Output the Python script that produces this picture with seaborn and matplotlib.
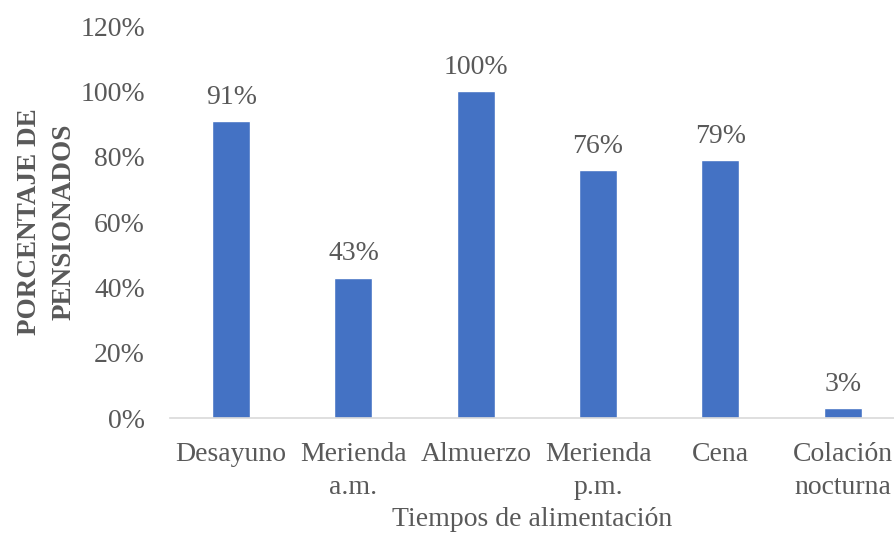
import matplotlib
matplotlib.use("Agg")
import matplotlib.pyplot as plt
import seaborn as sns
import pandas as pd

categorias = ["Desayuno", "Merienda\na.m.", "Almuerzo", "Merienda\np.m.", "Cena", "Colación\nnocturna"]
porcentajes = [91, 43, 100, 76, 79, 3]
ticks_y = [0, 20, 40, 60, 80, 100, 120]

sns.set_theme(style="white")
plt.rcParams["font.family"] = ["Liberation Serif", "DejaVu Serif"]

texto = "#595959"
azul = "#4472C4"

df = pd.DataFrame({"tiempo": categorias, "pct": porcentajes})

fig = plt.figure(figsize=(8.94, 5.37), dpi=100)
ax = fig.add_axes([170 / 894, (537 - 418) / 537, 724 / 894, 392 / 537])

sns.barplot(data=df, x="tiempo", y="pct", color=azul, width=0.31,
            saturation=1, ax=ax)

ax.set_xlim(-0.5, 5.42)
ax.set_ylim(0, 120)
ax.set_yticks(ticks_y)
ax.set_yticklabels([f"{t}%" for t in ticks_y])
ax.tick_params(axis="both", length=0, labelsize=20, colors=texto)
ax.tick_params(axis="y", pad=18)
ax.tick_params(axis="x", pad=17)
for lbl in ax.get_xticklabels():
    lbl.set_linespacing(1.45)

for side in ["top", "right", "left"]:
    ax.spines[side].set_visible(False)
ax.spines["bottom"].set_color("#D9D9D9")
ax.spines["bottom"].set_linewidth(1.2)

for i, v in enumerate(porcentajes):
    ax.annotate(f"{v}%", (i, v), xytext=(0, 8), textcoords="offset points",
                ha="center", va="bottom", fontsize=20, color=texto)

ax.set_xlabel("Tiempos de alimentación", fontsize=20, color=texto, labelpad=5)
ax.set_ylabel("PORCENTAJE DE\nPENSIONADOS", fontsize=19.5, color=texto,
              fontweight="bold", labelpad=3, linespacing=1.5)

fig.savefig("out.png", dpi=100)
